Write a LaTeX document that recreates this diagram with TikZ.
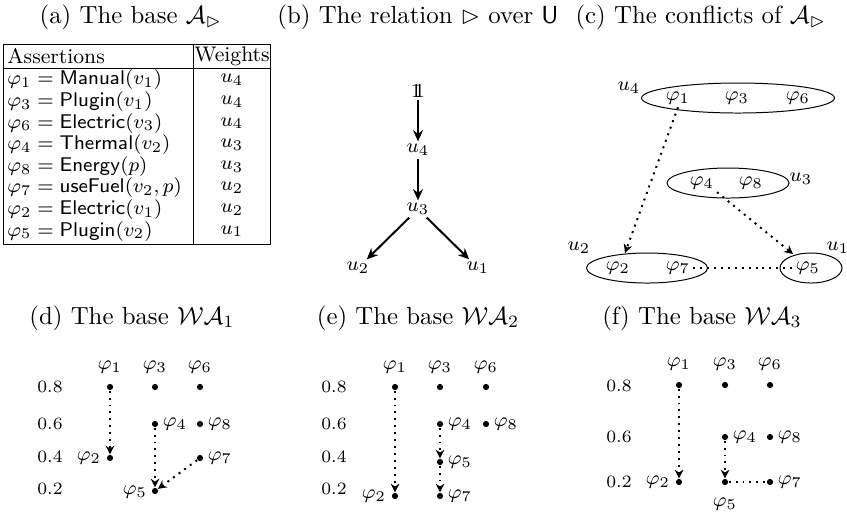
\documentclass[tikz,border=0pt]{standalone}
\usepackage{amsmath,amssymb}
\usetikzlibrary{arrows.meta,shapes.geometric}
\newcommand{\dsone}{1\mkern-6mu1}
\newcommand{\tabfont}{\fontsize{8.5}{10}\selectfont}
\begin{document}
\begin{tikzpicture}[x=0.4032pt,y=-0.4032pt,
  capt/.style={inner sep=0pt,font=\normalsize},
  lab/.style={inner sep=1pt,font=\footnotesize},
  tcell/.style={inner sep=0pt,font=\tabfont,anchor=west},
  wcell/.style={inner sep=0pt,font=\tabfont},
  lvl/.style={inner sep=0pt,font=\scriptsize},
  pdot/.style={circle,fill,inner sep=0pt,minimum size=2.5pt},
  rel/.style={thick,-{Stealth[length=4.5pt,width=4pt]}},
  conf/.style={thick,dotted,-{Stealth[length=3.5pt,width=3.5pt]}},
  confl/.style={thick,dotted},
  grp/.style={draw,ellipse,inner sep=0pt}]
\useasboundingbox (0,0) rectangle (847,518);
% captions
\node[capt] (ca) at (131,17) {(a) The base $\mathcal{A}_{\rhd}$};
\node[capt] (cb) at (418,17) {(b) The relation $\rhd$ over $\mathsf{U}$};
\node[capt] (cc) at (701,17) {(c) The conflicts of $\mathcal{A}_{\rhd}$};
\node[capt] (cd) at (132,318) {(d) The base $\mathcal{WA}_1$};
\node[capt] (ce) at (418,318) {(e) The base $\mathcal{WA}_2$};
\node[capt] (cf) at (702,318) {(f) The base $\mathcal{WA}_3$};
% (a) table
\draw (3,44) rectangle (270,244);
\draw (3,68) -- (270,68);
\draw (193,44) -- (193,244);
\node[tcell] (th1) at (7,56) {Assertions};
\node[wcell] (th2) at (232,56) {Weights};
\foreach \i/\f/\w in {0/{\varphi_1 = \mathsf{Manual}(v_1)}/u_4,
                       1/{\varphi_3 = \mathsf{Plugin}(v_1)}/u_4,
                       2/{\varphi_6 = \mathsf{Electric}(v_3)}/u_4,
                       3/{\varphi_4 = \mathsf{Thermal}(v_2)}/u_3,
                       4/{\varphi_8 = \mathsf{Energy}(p)}/u_3,
                       5/{\varphi_7 = \mathsf{useFuel}(v_2,p)}/u_2,
                       6/{\varphi_2 = \mathsf{Electric}(v_1)}/u_2,
                       7/{\varphi_5 = \mathsf{Plugin}(v_2)}/u_1}{
  \node[tcell] (ta\i) at (7,{80+21.6*\i}) {$\f$};
  \node[wcell] (tw\i) at (232,{80+21.6*\i}) {$\w$};
}
% (b) relation
\node[lab] (one) at (418,91) {$\dsone$};
\node[lab] (u4) at (418,150) {$u_4$};
\node[lab] (u3) at (418,209) {$u_3$};
\node[lab] (u2) at (358,268) {$u_2$};
\node[lab] (u1) at (478,268) {$u_1$};
\draw[rel] (one) -- (u4);
\draw[rel] (u4) -- (u3);
\draw[rel] (u3) -- (u2);
\draw[rel] (u3) -- (u1);
% (c) conflicts
\node[grp,minimum width=77.8pt,minimum height=12.1pt] (g4) at (738,98) {};
\node[grp,minimum width=49.2pt,minimum height=12.1pt] (g3) at (728,183) {};
\node[grp,minimum width=48.8pt,minimum height=12.1pt] (g2) at (647,268) {};
\node[grp,minimum width=25pt,minimum height=12.1pt] (g1) at (811,268) {};
\node[lab] (lg4) at (629,88) {$u_4$};
\node[lab] (lg3) at (801,179) {$u_3$};
\node[lab] (lg2) at (579,248) {$u_2$};
\node[lab] (lg1) at (838,248) {$u_1$};
\node[lab] (c1) at (678,98) {$\varphi_1$};
\node[lab] (c3) at (737,98) {$\varphi_3$};
\node[lab] (c6) at (798,98) {$\varphi_6$};
\node[lab] (c4) at (702,183) {$\varphi_4$};
\node[lab] (c8) at (751,183) {$\varphi_8$};
\node[lab] (c2) at (618,268) {$\varphi_2$};
\node[lab] (c7) at (678,268) {$\varphi_7$};
\node[lab] (c5) at (808,268) {$\varphi_5$};
\coordinate (t2) at (625,253);
\coordinate (t1) at (793,254);
\draw[conf] (c1.south) -- (t2);
\draw[conf] (c4.south east) -- (t1);
\draw[confl] (c7.east) -- (c5.west);
% (d) WA1
\foreach \v/\yy in {0.8/387,0.6/424,0.4/457,0.2/489}{\node[lvl] at (50,\yy) {\v};}
\node[pdot] (d1) at (110,387) {};
\node[pdot] (d3) at (155,387) {};
\node[pdot] (d6) at (200,387) {};
\node[pdot] (d4) at (155,424) {};
\node[pdot] (d8) at (200,424) {};
\node[pdot] (d2) at (110,458) {};
\node[pdot] (d7) at (200,458) {};
\node[pdot] (d5) at (155,491) {};
\node[lab] (dl1) at (110,367) {$\varphi_1$};
\node[lab] (dl3) at (155,367) {$\varphi_3$};
\node[lab] (dl6) at (200,367) {$\varphi_6$};
\node[lab] (dl4) at (175,424) {$\varphi_4$};
\node[lab] (dl8) at (220,424) {$\varphi_8$};
\node[lab] (dl2) at (89,458) {$\varphi_2$};
\node[lab] (dl7) at (220,458) {$\varphi_7$};
\node[lab] (dl5) at (135,492) {$\varphi_5$};
\draw[conf] (d1) -- (d2);
\draw[conf] (d4) -- (d5);
\draw[conf] (d7) -- (d5);
% (e) WA2
\foreach \v/\yy in {0.8/387,0.6/424,0.4/457,0.2/489}{\node[lvl] at (334,\yy) {\v};}
\node[pdot] (e1) at (395,387) {};
\node[pdot] (e3) at (440,387) {};
\node[pdot] (e6) at (486,387) {};
\node[pdot] (e4) at (440,424) {};
\node[pdot] (e8) at (486,424) {};
\node[pdot] (e5) at (440,462) {};
\node[pdot] (e2) at (395,496) {};
\node[pdot] (e7) at (440,496) {};
\node[lab] (el1) at (395,367) {$\varphi_1$};
\node[lab] (el3) at (440,367) {$\varphi_3$};
\node[lab] (el6) at (486,367) {$\varphi_6$};
\node[lab] (el4) at (460,424) {$\varphi_4$};
\node[lab] (el8) at (506,424) {$\varphi_8$};
\node[lab] (el5) at (460,462) {$\varphi_5$};
\node[lab] (el2) at (374,496) {$\varphi_2$};
\node[lab] (el7) at (460,496) {$\varphi_7$};
\draw[conf] (e1) -- (e2);
\draw[conf] (e4) -- (e5);
\draw[conf] (e5) -- (e7);
% (f) WA3
\foreach \v/\yy in {0.8/386,0.6/437,0.2/482}{\node[lvl] at (619,\yy) {\v};}
\node[pdot] (f1) at (679,385) {};
\node[pdot] (f3) at (725,385) {};
\node[pdot] (f6) at (770,385) {};
\node[pdot] (f4) at (725,437) {};
\node[pdot] (f8) at (770,437) {};
\node[pdot] (f2) at (679,482) {};
\node[pdot] (f5) at (725,482) {};
\node[pdot] (f7) at (770,482) {};
\node[lab] (fl1) at (679,364) {$\varphi_1$};
\node[lab] (fl3) at (725,364) {$\varphi_3$};
\node[lab] (fl6) at (770,364) {$\varphi_6$};
\node[lab] (fl4) at (745,437) {$\varphi_4$};
\node[lab] (fl8) at (790,437) {$\varphi_8$};
\node[lab] (fl2) at (658,482) {$\varphi_2$};
\node[lab] (fl5) at (725,504) {$\varphi_5$};
\node[lab] (fl7) at (790,482) {$\varphi_7$};
\draw[conf] (f1) -- (f2);
\draw[conf] (f4) -- (f5);
\draw[confl] (f5) -- (f7);
\end{tikzpicture}
\end{document}
